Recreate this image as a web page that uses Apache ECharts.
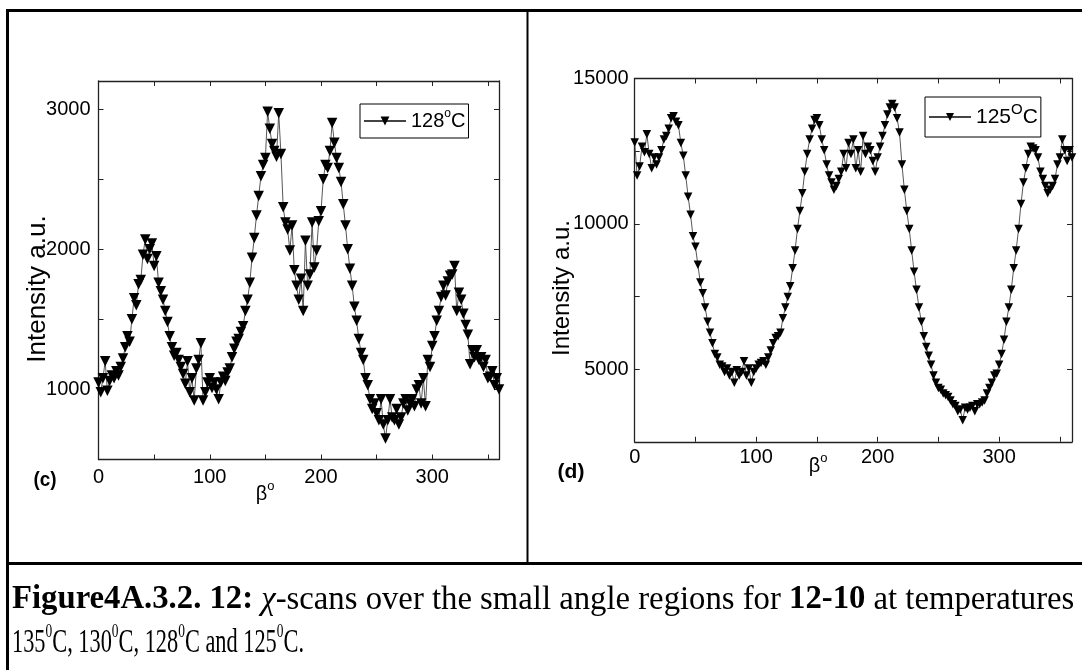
<!DOCTYPE html>
<html>
<head>
<meta charset="utf-8">
<script src="https://cdn.jsdelivr.net/npm/echarts@6/dist/echarts.min.js"></script>
<style>
html,body{margin:0;padding:0;background:#fff}
#main{width:1082px;height:670px}
</style>
</head>
<body>
<div id="main"></div>
<script>
// beta angles (deg) of the chi-scan samples
var angles = [0,2,4,6,8,10,12,14,16,18,20,22,24,26,28,30,32,34,36,38,
  40,42,44,46,48,50,52,54,56,58,60,62,64,66,68,70,72,74,76,78,
  80,82,84,86,88,90,92,94,96,98,100,102,104,106,108,110,112,114,116,118,
  120,122,124,126,128,130,132,134,136,138,140,142,144,146,148,150,152,154,156,158,
  160,162,164,166,168,170,172,174,176,178,180,182,184,186,188,190,192,194,196,198,
  200,202,204,206,208,210,212,214,216,218,220,222,224,226,228,230,232,234,236,238,
  240,242,244,246,248,250,252,254,256,258,260,262,264,266,268,270,272,274,276,278,
  280,282,284,286,288,290,292,294,296,298,300,302,304,306,308,310,312,314,316,318,
  320,322,324,326,328,330,332,334,336,338,340,342,344,346,348,350,352,354,356,358,360];

// panel (c) 128 C
var intensity128 = [1050,980,1080,1200,990,1060,1100,1080,1130,1100,
  1160,1220,1300,1380,1340,1500,1650,1600,1750,1780,
  1960,2070,1930,2000,2040,1880,1950,1760,1700,1640,
  1560,1480,1380,1300,1240,1260,1210,1160,1110,1040,
  1200,980,1080,920,1150,1210,1330,920,980,1050,
  1080,1010,1050,1000,930,1050,1090,1060,1120,1150,
  1230,1290,1340,1360,1410,1450,1560,1640,1760,1940,
  2080,2240,2380,2520,2600,2650,2980,2860,2750,2700,
  2660,2970,2680,2300,2190,2140,1990,2170,1850,1740,
  1640,1790,1560,2060,1740,1820,2190,1870,1990,2200,
  2270,2500,2600,2580,2700,2900,2760,2650,2580,2480,
  2320,2170,2000,1860,1740,1590,1490,1360,1260,1210,
  1080,1030,930,860,900,830,780,930,750,650,
  780,930,800,780,860,750,800,900,930,850,
  900,930,880,1000,1030,900,1080,880,1210,1160,
  1310,1380,1490,1560,1660,1740,1670,1770,1810,1820,
  1880,1560,1690,1640,1540,1460,1390,1180,1280,1230,
  1280,1210,1230,1160,1210,1080,1090,1130,1030,1080,
  1000];

// panel (d) 125 C
var intensity125 = [12800,11660,11970,12650,12460,13080,12400,11910,12280,12040,
  12280,12530,12900,13020,13270,13630,13700,13510,13390,12780,
  12340,11660,10930,10310,9570,9210,8590,7980,7610,7120,
  6630,6250,5890,5520,5400,5150,5090,4900,5020,4780,
  4900,4530,4960,4780,4900,5270,4780,5020,4530,4900,
  5020,5150,5210,5270,5150,5400,5640,5890,6070,6130,
  6250,6750,7120,7480,7850,8470,9080,9820,10440,11050,
  11790,12400,12900,13270,13570,13630,13390,12900,12530,12040,
  11660,11420,11170,11300,11540,11790,12400,11910,12780,12400,
  12900,11910,12530,11790,13020,12400,12650,12530,12160,11790,
  12280,12650,13020,13390,13760,14000,14120,14000,13630,13140,
  12040,11170,10440,9820,9080,8350,7730,7120,6630,6130,
  5760,5460,5150,4780,4530,4350,4290,4160,4100,4040,
  3920,3790,3730,3550,3610,3240,3670,3610,3670,3730,
  3550,3790,3790,3850,3920,4160,4350,4530,4780,4840,
  5150,5520,6010,6630,7120,7730,8470,9080,9820,10680,
  11420,11910,12400,12650,12590,12530,12280,11790,11540,11300,
  11050,11170,11300,11540,12040,12280,12900,12530,12160,12530,
  12280];

var xTicks = [0, 100, 200, 300];
var yTicks128 = [1000, 2000, 3000];
var yTicks125 = [5000, 10000, 15000];

var sans = '"Liberation Sans", Arial, sans-serif';
var serif = '"Liberation Serif", "Times New Roman", serif';

function pairs(ys) {
  return angles.map(function (a, i) { return [a, ys[i]]; });
}
function only(list) {
  return function (v) { return list.indexOf(v) >= 0 ? String(v) : ''; };
}

var frameLine = { show: true, onZero: false, lineStyle: { color: '#222', width: 1.3 } };
var tickIn = { show: true, inside: true, length: 5, lineStyle: { color: '#222', width: 1 } };

function xAxes(gi, size, margin) {
  return [
    { type: 'value', gridIndex: gi, position: 'bottom', min: 0, max: 360, interval: 50,
      axisLine: frameLine, axisTick: tickIn, splitLine: { show: false },
      axisLabel: { formatter: only(xTicks), color: '#000', fontFamily: sans, fontSize: size, margin: margin } },
    { type: 'value', gridIndex: gi, position: 'top', min: 0, max: 360, interval: 50,
      axisLine: frameLine, axisTick: tickIn, splitLine: { show: false }, axisLabel: { show: false } }
  ];
}
function yAxes(gi, min, max, step, ticks, size, margin) {
  return [
    { type: 'value', gridIndex: gi, position: 'left', min: min, max: max, interval: step,
      axisLine: frameLine, axisTick: tickIn, splitLine: { show: false },
      axisLabel: { formatter: only(ticks), color: '#000', fontFamily: sans, fontSize: size, margin: margin,
        showMaxLabel: true, showMinLabel: true } },
    { type: 'value', gridIndex: gi, position: 'right', min: min, max: max, interval: step,
      axisLine: frameLine, axisTick: tickIn, splitLine: { show: false }, axisLabel: { show: false } }
  ];
}

function scan(name, ys, xi, yi, size) {
  return {
    name: name, type: 'line', xAxisIndex: xi, yAxisIndex: yi, data: pairs(ys),
    symbol: 'triangle', symbolRotate: 180, symbolSize: size,
    itemStyle: { color: '#000' }, lineStyle: { color: '#444', width: 0.9 }
  };
}

function txt(x, y, text, opt) {
  var st = { text: text, fill: '#000', align: opt.align || 'center', verticalAlign: 'middle',
    fontFamily: opt.font, fontSize: opt.size, fontWeight: opt.weight || 'normal' };
  if (opt.lh) st.lineHeight = opt.lh;
  if (opt.rich) st.rich = opt.rich;
  return { type: 'text', x: x, y: y, rotation: opt.rot || 0, scaleX: opt.sx || 1, style: st, z: 10 };
}
function sup(font, size, lh) {
  return { s: { fontFamily: font, fontSize: size, lineHeight: lh, verticalAlign: 'top' } };
}

// caption: line 1 fills the cell width, line 2 is set condensed as in the scan
var ctx = document.createElement('canvas').getContext('2d');
function measure(parts, size) {
  return parts.reduce(function (sum, p) {
    ctx.font = (p[1] ? 'bold ' : '') + size + 'px ' + serif;
    return sum + ctx.measureText(p[0]).width;
  }, 0);
}
var cap1Parts = [['Figure4A.3.2. 12:', true], [' \u03c7-scans over the small angle regions for ', false],
  ['12-10', true], [' at temperatures', false]];
var capFont = Math.min(34, 30 * 1063 / measure(cap1Parts, 30));
var cap2Width = measure([['135C, 130C, 128C and 125C.', false]], capFont) +
  4 * measure([['0', false]], capFont * 0.6);
var cap2Scale = 292 / cap2Width;
var capRich = {
  b: { fontWeight: 'bold', fontFamily: serif, fontSize: capFont },
  i: { fontStyle: 'italic', fontFamily: serif, fontSize: capFont },
  s: { fontFamily: serif, fontSize: capFont * 0.6, lineHeight: capFont * 0.55, verticalAlign: 'top' }
};

var myChart = echarts.init(document.getElementById('main'));
var option = {
  animation: false,
  backgroundColor: '#fff',
  grid: [
    { left: 98.5, top: 81, width: 400.5, height: 378.5, outerBoundsMode: 'none' },
    { left: 634.7, top: 78.5, width: 437.3, height: 363.3, outerBoundsMode: 'none' }
  ],
  xAxis: xAxes(0, 20, 8).concat(xAxes(1, 20, 6)),
  yAxis: yAxes(0, 500, 3200, 500, yTicks128, 20, 8)
    .concat(yAxes(1, 2500, 15000, 2500, yTicks125, 20, 6)),
  legend: [
    { data: ['128C'], left: 360, top: 104, orient: 'vertical', padding: [4, 3, 4, 3],
      itemWidth: 42, itemHeight: 11, borderColor: '#000', borderWidth: 1, borderRadius: 0,
      formatter: function () { return '128{s|o}C'; },
      textStyle: { color: '#000', fontFamily: sans, fontSize: 20, lineHeight: 26, rich: sup(sans, 12, 12) } },
    { data: ['125C'], left: 925, top: 97, orient: 'vertical', padding: [5, 3, 5, 3],
      itemWidth: 42, itemHeight: 10, borderColor: '#000', borderWidth: 1, borderRadius: 0,
      formatter: function () { return '125{s|O}C'; },
      textStyle: { color: '#000', fontFamily: sans, fontSize: 21, lineHeight: 30, rich: sup(sans, 15, 15) } }
  ],
  series: [
    scan('128C', intensity128, 0, 0, 10.5),
    scan('125C', intensity125, 2, 2, 8.5)
  ],
  graphic: [
    // table frame
    { type: 'line', shape: { x1: 6, y1: 10.5, x2: 1082, y2: 10.5 }, style: { stroke: '#000', lineWidth: 3 } },
    { type: 'line', shape: { x1: 7.5, y1: 9, x2: 7.5, y2: 670 }, style: { stroke: '#000', lineWidth: 3 } },
    { type: 'line', shape: { x1: 527.5, y1: 9, x2: 527.5, y2: 563 }, style: { stroke: '#000', lineWidth: 2 } },
    { type: 'line', shape: { x1: 6, y1: 563.5, x2: 1082, y2: 563.5 }, style: { stroke: '#000', lineWidth: 3 } },
    // axis names and panel labels
    txt(38, 289, 'Intensity a.u.', { font: sans, size: 26, rot: Math.PI / 2 }),
    txt(562, 288, 'Intensity a.u.', { font: sans, size: 24, rot: Math.PI / 2 }),
    txt(265, 494, '\u03b2{s|o}', { font: sans, size: 20, lh: 28, rich: sup(sans, 13, 12) }),
    txt(818, 466, '\u03b2{s|o}', { font: sans, size: 20, lh: 28, rich: sup(sans, 13, 12) }),
    txt(45, 480, '(c)', { font: sans, size: 21, weight: 'bold', sx: 0.9 }),
    txt(571, 472, '(d)', { font: sans, size: 21, weight: 'bold' }),
    // caption
    txt(12, 600, '{b|Figure4A.3.2. 12:} {i|\u03c7}-scans over the small angle regions for {b|12-10} at temperatures',
      { font: serif, size: capFont, align: 'left', rich: capRich }),
    txt(12, 643, '135{s|0}C, 130{s|0}C, 128{s|0}C and 125{s|0}C.',
      { font: serif, size: capFont, lh: capFont * 1.3, align: 'left', rich: capRich, sx: cap2Scale })
  ]
};
myChart.setOption(option);
</script>
</body>
</html>
